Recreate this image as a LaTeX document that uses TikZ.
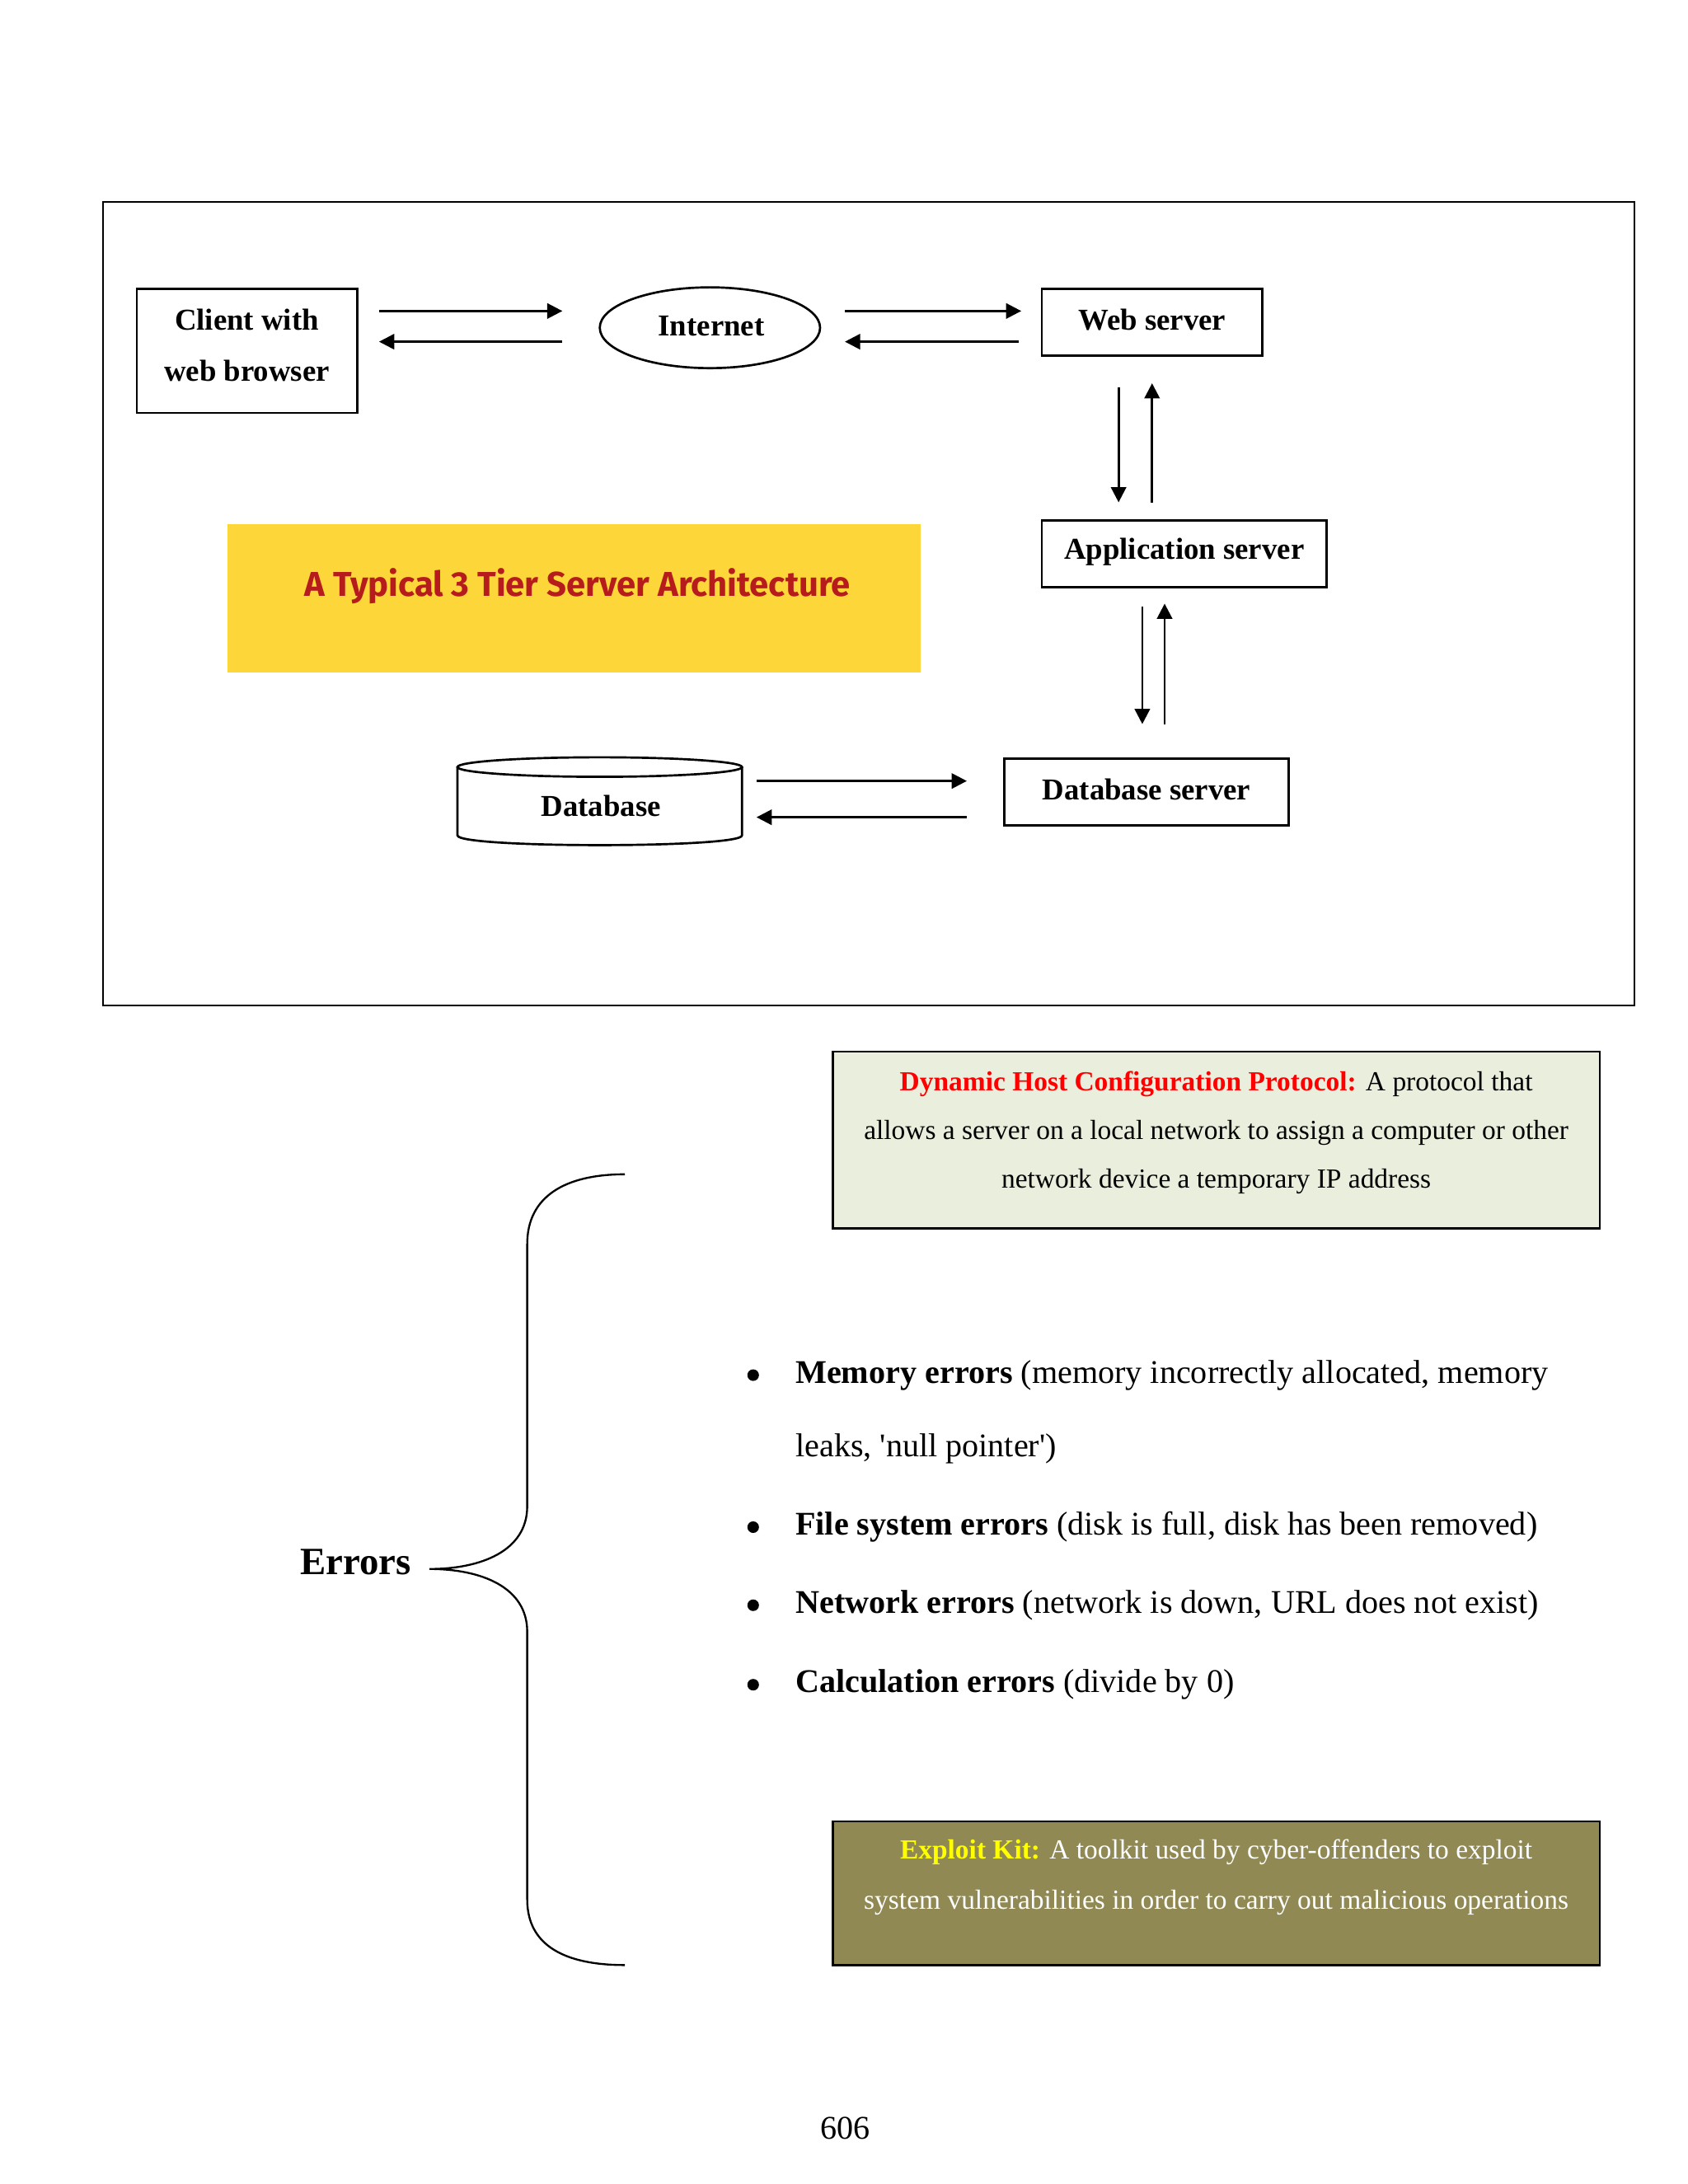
\documentclass[tikz,border=0pt]{standalone}
\usepackage{fontspec}
\setmainfont{Liberation Serif}
\newfontfamily\titlefont{Fira Sans}
\usetikzlibrary{arrows.meta,calc,shapes.geometric}
\definecolor{tyellow}{HTML}{FDD73A}
\definecolor{tred}{HTML}{B71C1C}
\definecolor{dhcpbg}{HTML}{EAEEDC}
\definecolor{kitbg}{HTML}{908953}
\definecolor{kityellow}{HTML}{FFFF00}
\begin{document}
\begin{tikzpicture}[x=0.5058pt,y=-0.5058pt,
  every node/.style={inner sep=0pt},
  box/.style={draw,line width=0.8pt,font=\fontsize{11}{18.7}\selectfont\bfseries,align=center},
  lbl/.style={font=\fontsize{11}{18.7}\selectfont\bfseries,align=center},
  arr/.style={-{Triangle[length=5.5pt,width=5.5pt]},line width=0.8pt},
  body/.style={font=\fontsize{12}{14}\selectfont},
  dot/.style={circle,fill=black,minimum size=4.2pt}]
\useasboundingbox (0,0) rectangle (1210,1566);
\fill[white] (0,0) rectangle (1210,1566);
% outer frame
\draw[line width=0.6pt] (74,145) rectangle (1172,721);
% nodes
\node[box,minimum width=79.9pt,minimum height=45pt] (client) at (177,251.5) {};
\node[lbl] (clienttext) at (177,247.5) {Client with\\web browser};
\node[box,ellipse,minimum width=79.9pt,minimum height=29.3pt] (internet) at (509,235) {};
\node[lbl] (internettext) at (510,234) {Internet};
\node[box,minimum width=79.9pt,minimum height=24.3pt] (web) at (826,231) {};
\node[lbl] (webtext) at (826,229) {Web server};
\node[box,minimum width=103.2pt,minimum height=24.3pt] (app) at (849,397) {};
\node[lbl] (apptext) at (849,396) {Application server};
\node[box,minimum width=103.2pt,minimum height=24.3pt] (dbs) at (822,568) {};
\node[lbl] (dbstext) at (822,566) {Database server};
% database cylinder
\draw[line width=0.8pt] (430,550) ellipse [x radius=102, y radius=7];
\draw[line width=0.8pt] (328,550) -- (328,599) .. controls (328,608.3) and (532,608.3) .. (532,599) -- (532,550);
\node[lbl,minimum width=103.2pt] (db) at (431,578) {Database};
% banner
\node[fill=tyellow,minimum width=251.4pt,minimum height=53.6pt] (banner) at (411.5,429) {};
\node[font=\titlefont\bfseries\fontsize{12.5}{15}\selectfont,text=tred] (title) at (414,420) {A Typical 3 Tier Server Architecture};
% arrows
\draw[arr] ($(client.east|-0,223)+(15,0)$) -- ($(internet.west|-0,223)+(-26,0)$);
\draw[arr] ($(internet.west|-0,245)+(-26,0)$) -- ($(client.east|-0,245)+(15,0)$);
\draw[arr] ($(internet.east|-0,223)+(17,0)$) -- ($(web.west|-0,223)+(-14,0)$);
\draw[arr] ($(web.west|-0,245)+(-16,0)$) -- ($(internet.east|-0,245)+(17,0)$);
\draw[arr] ($(web.south-|802,0)+(0,22)$) -- ($(app.north-|802,0)+(0,-12)$);
\draw[arr] ($(app.north-|826,0)+(0,-12)$) -- ($(web.south-|826,0)+(0,19)$);
\draw[arr] ($(app.south-|819,0)+(0,13)$) -- ($(dbs.north-|819,0)+(0,-24)$);
\draw[arr] ($(dbs.north-|835,0)+(0,-24)$) -- ($(app.south-|835,0)+(0,11)$);
\draw[arr] ($(db.east|-0,560)+(9,0)$) -- ($(dbs.west|-0,560)+(-26,0)$);
\draw[arr] ($(dbs.west|-0,586)+(-26,0)$) -- ($(db.east|-0,586)+(9,0)$);
% DHCP box
\node[draw,line width=0.8pt,fill=dhcpbg,minimum width=278.2pt,minimum height=64.2pt] (dhcp) at (872,817.5) {};
\node[align=center,font=\fontsize{10}{17.7}\selectfont] (dhcptext) at (872,812) {\textcolor{red}{\textbf{Dynamic Host Configuration Protocol:}} A protocol that\\allows a server on a local network to assign a computer or other\\network device a temporary IP address};
% Exploit kit box
\node[draw,line width=0.8pt,fill=kitbg,minimum width=278.2pt,minimum height=52.1pt] (kit) at (872,1357.5) {};
\node[align=center,text=white,font=\fontsize{10}{18.2}\selectfont] (kittext) at (872,1346) {\textcolor{kityellow}{\textbf{Exploit Kit:}} A toolkit used by cyber-offenders to exploit\\system vulnerabilities in order to carry out malicious operations};
% Errors and brace
\node[font=\fontsize{14}{16}\selectfont\bfseries] (errors) at (255,1120) {Errors};
\coordinate (btip) at (308,1125);
\draw[line width=0.7pt] (448,842) .. controls (405,842) and (378,858) .. (378,892) -- (378,1080) .. controls (378,1112) and (345,1125) .. (btip) .. controls (345,1125) and (378,1138) .. (378,1170) -- (378,1362) .. controls (378,1395) and (405,1409) .. (448,1409);
% bullets
\node[dot] (d1) at (540,986) {};
\node[body,anchor=west] (t1) at (570,986) {\textbf{Memory errors} (memory incorrectly allocated, memory};
\node[body,anchor=west] (t1b) at (570,1039) {leaks, \textquotesingle null pointer\textquotesingle)};
\node[dot] (d2) at (540,1095) {};
\node[body,anchor=west] (t2) at (570,1095) {\textbf{File system errors} (disk is full, disk has been removed)};
\node[dot] (d3) at (540,1151) {};
\node[body,anchor=west] (t3) at (570,1151) {\textbf{Network errors} (network is down, URL does not exist)};
\node[dot] (d4) at (540,1208) {};
\node[body,anchor=west] (t4) at (570,1208) {\textbf{Calculation errors} (divide by 0)};
% page number
\node[body] (pg) at (606,1526) {606};
\end{tikzpicture}
\end{document}
